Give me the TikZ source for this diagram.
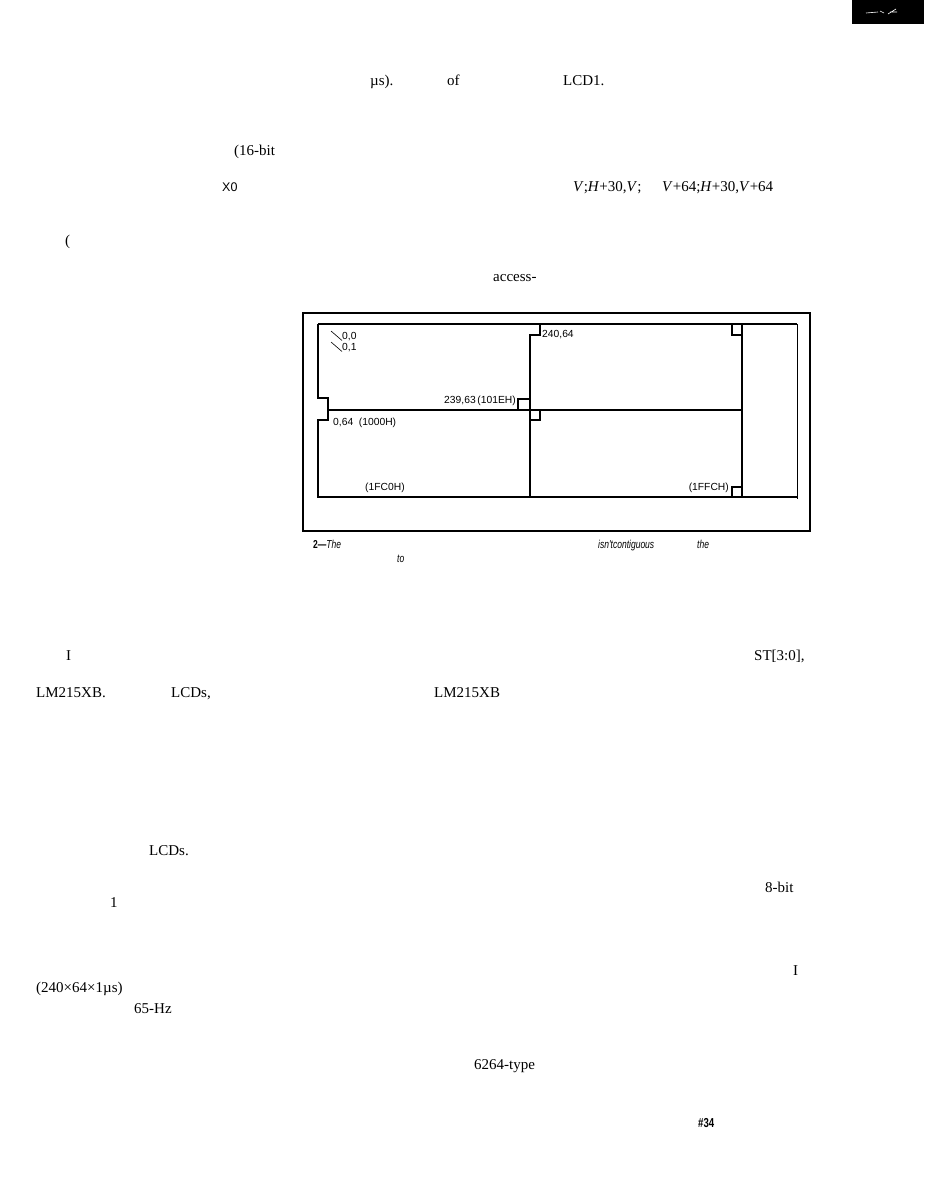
\documentclass[tikz,border=0pt]{standalone}
\usepackage{fontspec}
\setmainfont{Liberation Serif}
\newfontfamily\figfont{Liberation Sans}
\newfontfamily\capfont[FakeStretch=0.74]{Liberation Sans}
\usetikzlibrary{positioning}
\tikzset{
  bodytxt/.style={inner sep=0pt,anchor=base west,font=\fontsize{15}{18}\selectfont},
  figlbl/.style={inner sep=0pt,anchor=base west,font=\figfont\fontsize{10.3}{12}\selectfont},
  captxt/.style={inner sep=0pt,anchor=base west,font=\capfont\fontsize{11.5}{13}\selectfont\itshape},
  outerbox/.style={line width=2.8pt},
  gridline/.style={line width=1.1pt},
  leadline/.style={line width=0.6pt}
}

\begin{document}
\begin{tikzpicture}[x=1pt,y=-1pt]
  \useasboundingbox (0,0) rectangle (924,1193);
  % scanned logo corner
  \fill (852,0) rectangle (924,24);
  \draw[white,line width=0.6pt] (866,13) -- (878,12) (880,11) -- (884,13) (888,14) -- (896,9) (890,12) -- (897,12);

  % body text fragments
  \node[bodytxt] (mus) at (370,86) {µs).};
  \node[bodytxt] (of) at (447,86) {of};
  \node[bodytxt] (lcd1) at (563,86) {LCD1.};
  \node[bodytxt] (bit16) at (234,156) {(16-bit};
  \node[bodytxt,font=\figfont\fontsize{12.5}{14}\selectfont] (xo) at (222,192) {X0};
  \node[bodytxt] (hv1) at (573,192) {\textit{V};\textit{H}+30,\textit{V};};
  \node[bodytxt] (hv2) at (662,192) {\textit{V}+64;\textit{H}+30,\textit{V}+64};
  \node[bodytxt] (paren) at (65,245) {(};
  \node[bodytxt] (access) at (493,281) {access-};
  \node[bodytxt] (iA) at (66,660) {I};
  \node[bodytxt] (st) at (754,660) {ST[3:0],};
  \node[bodytxt] (lmA) at (36,697) {LM215XB.};
  \node[bodytxt] (lcdsA) at (171,697) {LCDs,};
  \node[bodytxt] (lmB) at (434,697) {LM215XB};
  \node[bodytxt] (lcdsB) at (149,855) {LCDs.};
  \node[bodytxt] (bit8) at (765,892) {8-bit};
  \node[bodytxt] (one) at (110,907) {1};
  \node[bodytxt] (iB) at (793,975) {I};
  \node[bodytxt] (rate) at (36,992) {(240×64×1µs)};
  \node[bodytxt] (hz) at (134,1013) {65-Hz};
  \node[bodytxt] (sram) at (474,1069) {6264-type};
  \node[captxt,font=\capfont\fontsize{13}{14}\selectfont\bfseries] (page) at (698,1127) {\#34};

  % figure frame
  \draw[outerbox] (303,313) rectangle (810,531);
  \draw[gridline,line width=1.8pt] (318,324) -- (797,324);
  \draw[gridline] (318,324) -- (318,398) -- (328,398) -- (328,420) -- (318,420) -- (318,497) -- (797,497);
  \draw[gridline,line width=0.8pt] (797,324) -- (797,499);
  \draw[gridline] (328,410) -- (742,410);
  \draw[gridline] (540,324) -- (540,335) -- (530,335) -- (530,497);
  \draw[gridline] (530,420) -- (540,420) -- (540,410);
  \draw[gridline] (742,324) -- (742,497);
  % pixel corner marks
  \draw[gridline] (530,399) -- (518,399) -- (518,410);
  \draw[gridline] (732,324) -- (732,335) -- (742,335);
  \draw[gridline] (742,487) -- (732,487) -- (732,497);

  % figure labels
  \node[figlbl] (p00) at (342,339) {0,0};
  \node[figlbl] (p01) at (342,350) {0,1};
  \coordinate (l00) at (331,331);
  \coordinate (l01) at (331,342);
  \draw[leadline] (l00) -- (p00.south west);
  \draw[leadline] (l01) -- (p01.south west);
  \node[figlbl] (p24064) at (542,337) {240,64};
  \node[figlbl,anchor=base east] (p23963) at (516,403) {239,63\,(101EH)};
  \node[figlbl] (p064) at (333,425) {0,64\ \ (1000H)};
  \node[figlbl] (a1fc0) at (365,490) {(1FC0H)};
  \node[figlbl,anchor=base east] (a1ffc) at (729,490) {(1FFCH)};

  % caption
  \node[captxt] (cap2) at (313,548) {\upshape\bfseries 2—\mdseries\itshape The};
  \node[captxt] (capc) at (598,548) {isn'tcontiguous};
  \node[captxt] (capthe) at (697,548) {the};
  \node[captxt] (capto) at (397,562) {to};
\end{tikzpicture}
\end{document}
